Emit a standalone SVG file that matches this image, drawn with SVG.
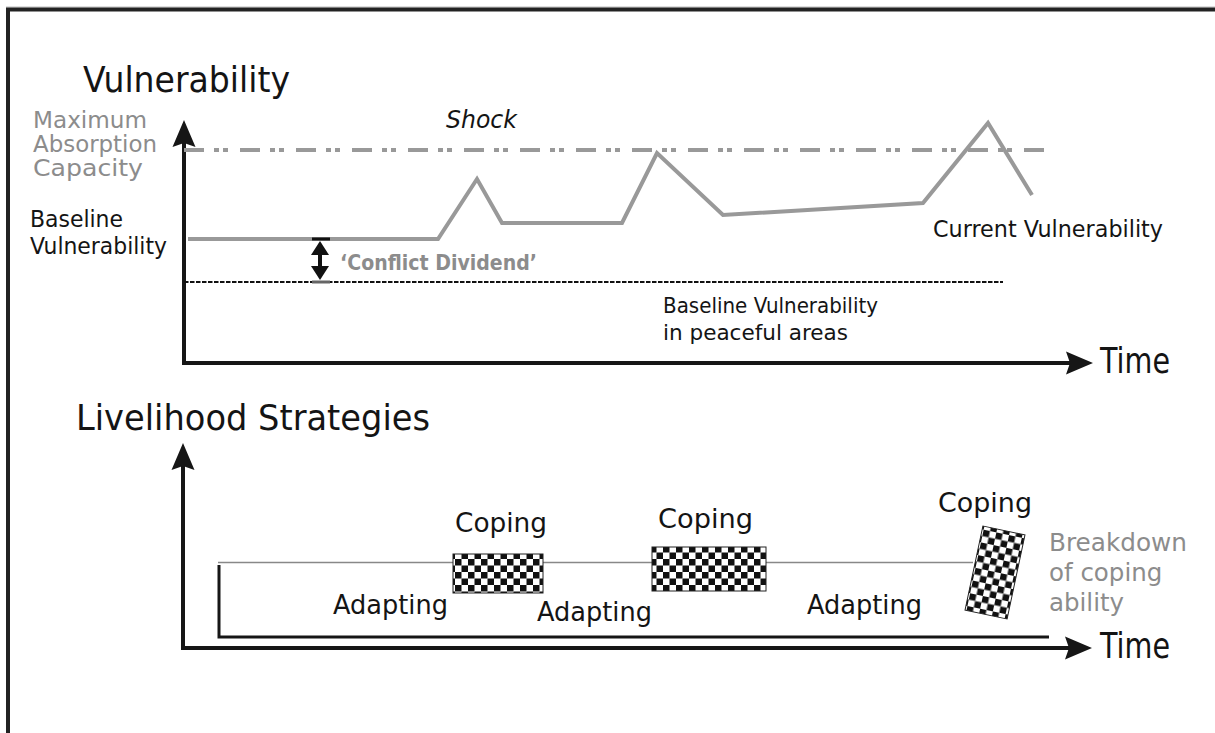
<svg xmlns="http://www.w3.org/2000/svg" width="1215" height="733" viewBox="0 0 1215 733">
<style>
text{font-family:'DejaVu Sans','Liberation Sans',sans-serif;}
.blk{fill:#141414;}
.gry{fill:#8c8c8c;}
.axis{stroke:#161616;stroke-width:4;fill:none;}
.box{stroke:#222;stroke-width:1;fill:url(#chk);}
</style>
<defs>
<pattern id="chk" patternUnits="userSpaceOnUse" width="13" height="13">
<rect width="13" height="13" fill="#fff"/>
<rect width="6.5" height="6.5" fill="#111"/>
<rect x="6.5" y="6.5" width="6.5" height="6.5" fill="#111"/>
</pattern>
<marker id="arr" markerUnits="userSpaceOnUse" orient="auto" markerWidth="40" markerHeight="30" refX="10" refY="15" viewBox="0 0 40 30" overflow="visible">
<path d="M30,15 L3,3.5 L7,15 L3,26.5 Z" fill="#161616"/>
</marker>
</defs>
<rect width="1215" height="733" fill="#fff"/>

<g id="frame">
<line x1="6" y1="7" x2="1215" y2="7" stroke="#bbb" stroke-width="1"/>
<line x1="6" y1="9.5" x2="1215" y2="9.5" stroke="#222" stroke-width="4"/>
<line x1="8" y1="8" x2="8" y2="733" stroke="#222" stroke-width="4"/>
</g>

<g id="connectors">
<line class="axis" x1="184" y1="365" x2="184" y2="140" marker-end="url(#arr)"/>
<line class="axis" x1="182" y1="363" x2="1073" y2="363" marker-end="url(#arr)"/>
<line x1="184" y1="150" x2="1049" y2="150" stroke="#999" stroke-width="4" stroke-dasharray="20 10 5 4 5 12"/>
<polyline points="188,239 438,239 477,179 502,223 622,223 657,153 723,215 923,203 988,123 1032,195" fill="none" stroke="#999" stroke-width="4"/>
<line x1="184" y1="282" x2="1003" y2="282" stroke="#111" stroke-width="2" stroke-dasharray="4.5 1.5"/>
<line x1="312" y1="239" x2="330" y2="239" stroke="#111" stroke-width="3"/>
<line x1="312" y1="282" x2="330" y2="282" stroke="#666" stroke-width="3"/>
<line x1="320" y1="252" x2="320" y2="269" stroke="#111" stroke-width="4"/>
<path d="M320,241 L329,255 L311,255 Z" fill="#111"/>
<path d="M320,280 L329,266 L311,266 Z" fill="#111"/>
<line class="axis" x1="183" y1="650" x2="183" y2="463" marker-end="url(#arr)"/>
<line class="axis" x1="181" y1="648" x2="1072" y2="648" marker-end="url(#arr)"/>
<polyline points="219,565 219,637 1049,637" fill="none" stroke="#161616" stroke-width="3"/>
<line x1="218" y1="562.5" x2="453" y2="562.5" stroke="#888" stroke-width="1.5"/>
<line x1="543" y1="562.5" x2="652" y2="562.5" stroke="#888" stroke-width="1.5"/>
<line x1="766" y1="562.5" x2="973" y2="562.5" stroke="#888" stroke-width="1.5"/>
</g>

<g id="title-vulnerability"><text class="blk" x="83" y="92" font-size="35" textLength="207" lengthAdjust="spacingAndGlyphs">Vulnerability</text></g>
<g id="label-max-absorption">
<text class="gry" x="33" y="128" font-size="23" textLength="114" lengthAdjust="spacingAndGlyphs">Maximum</text>
<text class="gry" x="33" y="152" font-size="23" textLength="124" lengthAdjust="spacingAndGlyphs">Absorption</text>
<text class="gry" x="33" y="176" font-size="23" textLength="110" lengthAdjust="spacingAndGlyphs">Capacity</text>
</g>
<g id="label-shock"><text class="blk" x="446" y="128" font-size="25" font-style="italic" textLength="71" lengthAdjust="spacingAndGlyphs">Shock</text></g>
<g id="label-baseline-vulnerability">
<text class="blk" x="30" y="227" font-size="23" textLength="93" lengthAdjust="spacingAndGlyphs">Baseline</text>
<text class="blk" x="30" y="254" font-size="23" textLength="137" lengthAdjust="spacingAndGlyphs">Vulnerability</text>
</g>
<g id="label-conflict-dividend"><text class="gry" x="340" y="270" font-size="22" font-weight="bold" textLength="197" lengthAdjust="spacingAndGlyphs">‘Conflict Dividend’</text></g>
<g id="label-current-vulnerability"><text class="blk" x="933" y="237" font-size="23.5" textLength="230" lengthAdjust="spacingAndGlyphs">Current Vulnerability</text></g>
<g id="label-peaceful">
<text class="blk" x="663" y="313" font-size="20.5" textLength="215" lengthAdjust="spacingAndGlyphs">Baseline Vulnerability</text>
<text class="blk" x="663" y="340" font-size="20.5" textLength="185" lengthAdjust="spacingAndGlyphs">in peaceful areas</text>
</g>
<g id="label-time-upper"><text class="blk" x="1100" y="373" font-size="35" textLength="70" lengthAdjust="spacingAndGlyphs">Time</text></g>

<g id="title-livelihood"><text class="blk" x="76" y="430" font-size="35" textLength="354" lengthAdjust="spacingAndGlyphs">Livelihood Strategies</text></g>

<g id="coping-1">
<rect class="box" x="453" y="554" width="90" height="39"/>
<text class="blk" x="455" y="532" font-size="26" textLength="92" lengthAdjust="spacingAndGlyphs">Coping</text>
</g>
<g id="coping-2">
<rect class="box" x="652" y="547" width="114" height="44"/>
<text class="blk" x="658" y="528" font-size="26" textLength="95" lengthAdjust="spacingAndGlyphs">Coping</text>
</g>
<g id="coping-3">
<rect class="box" x="973.5" y="529.5" width="43" height="86" transform="rotate(12 995 572.5)"/>
<text class="blk" x="938" y="512" font-size="26" textLength="94" lengthAdjust="spacingAndGlyphs">Coping</text>
</g>
<g id="adapting-1"><text class="blk" x="333" y="614" font-size="26" textLength="115" lengthAdjust="spacingAndGlyphs">Adapting</text></g>
<g id="adapting-2"><text class="blk" x="537" y="621" font-size="26" textLength="115" lengthAdjust="spacingAndGlyphs">Adapting</text></g>
<g id="adapting-3"><text class="blk" x="807" y="614" font-size="26" textLength="115" lengthAdjust="spacingAndGlyphs">Adapting</text></g>
<g id="label-breakdown">
<text class="gry" x="1049" y="551" font-size="24.5" textLength="138" lengthAdjust="spacingAndGlyphs">Breakdown</text>
<text class="gry" x="1049" y="581" font-size="24.5">of coping</text>
<text class="gry" x="1049" y="611" font-size="24.5">ability</text>
</g>
<g id="label-time-lower"><text class="blk" x="1100" y="658" font-size="35" textLength="70" lengthAdjust="spacingAndGlyphs">Time</text></g>
</svg>
